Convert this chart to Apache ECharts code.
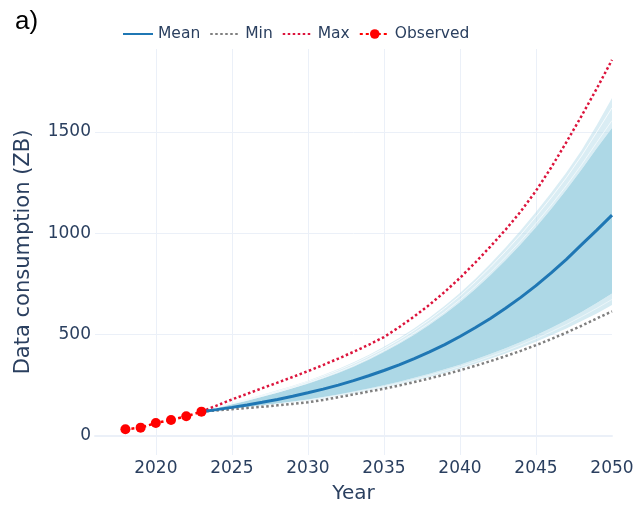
<!DOCTYPE html>
<html>
<head>
<meta charset="utf-8">
<script src="https://cdn.jsdelivr.net/npm/echarts@6/dist/echarts.min.js"></script>
<style>
  html, body { margin: 0; padding: 0; background: #fff; }
  #chart { width: 635px; height: 511px; }
</style>
</head>
<body>
<div id="chart"></div>
<script>
// Observed global data volume (ZB)
const observedYears = [2018, 2019, 2020, 2021, 2022, 2023];
const observedValues = [33, 41, 64, 79, 97, 120];

// Projection years
const projYears = [2023, 2024, 2025, 2026, 2027, 2028, 2029, 2030, 2031, 2032, 2033, 2034, 2035, 2036,
                   2037, 2038, 2039, 2040, 2041, 2042, 2043, 2044, 2045, 2046, 2047, 2048, 2049, 2050];

// Ensemble statistics
const meanValues = [120, 130, 141, 153, 166, 180, 196, 213, 231, 251, 273, 297, 323, 351,
                    382, 415, 451, 491, 534, 580, 630, 684, 742, 805, 872, 944, 1016, 1090];
const minValues  = [120, 126, 132, 138, 144, 151, 158, 166, 178, 191, 205, 219, 233, 249,
                    266, 284, 303, 324, 346, 369, 394, 420, 448, 478, 510, 544, 580, 615];
const maxValues  = [120, 150, 180, 208, 236, 263, 291, 320, 350, 382, 415, 450, 488, 537,
                    590, 648, 711, 780, 855, 935, 1018, 1108, 1210, 1325, 1450, 1580, 1715, 1856];

// Spread of the simulated trajectories (outer faint edges and dense core)
const bandOuterLower = [120, 126, 133, 140, 148, 156, 165, 174, 185, 197, 210, 224, 239, 255,
                        272, 291, 311, 333, 356, 381, 407, 435, 465, 497, 531, 567, 605, 646];
const bandInnerLower = [120, 127, 134, 142, 151, 160, 170, 180, 192, 205, 219, 234, 250, 268,
                        287, 307, 329, 352, 377, 404, 433, 464, 497, 533, 571, 612, 656, 703];
const bandInnerUpper = [120, 138, 156, 174, 193, 213, 235, 258, 283, 311, 341, 376, 414, 455,
                        500, 549, 602, 660, 724, 793, 867, 946, 1030, 1120, 1215, 1315, 1420, 1520];
const bandOuterUpper = [120, 143, 164, 183, 203, 225, 248, 273, 301, 331, 364, 400, 440, 484,
                        532, 585, 643, 706, 775, 850, 930, 1015, 1105, 1200, 1300, 1410, 1535, 1668];

// A few individual light trajectories along the upper edge of the ensemble
const edgeTrajA = [120, 142, 162, 180, 200, 221, 244, 269, 296, 325, 357, 393, 432, 475,
                   522, 574, 631, 692, 760, 833, 911, 994, 1083, 1176, 1275, 1383, 1500, 1620];
const edgeTrajB = [120, 139, 158, 176, 196, 216, 238, 262, 288, 316, 347, 382, 421, 462,
                   508, 558, 612, 672, 737, 807, 883, 963, 1049, 1140, 1236, 1339, 1449, 1557];
const edgeTrajC = [120, 126, 133, 141, 149, 158, 167, 177, 188, 201, 214, 229, 244, 261,
                   279, 299, 320, 342, 366, 392, 419, 449, 480, 514, 550, 589, 630, 674];

// Tick labels
const xTickLabels = [2020, 2025, 2030, 2035, 2040, 2045, 2050];
const yTickLabels = [0, 500, 1000, 1500];

const FONT = 'DejaVu Sans';
const INK = '#2a3f5f';
const GRID = '#ebf0f8';

const pairs = (xs, ys) => xs.map((x, i) => [x, ys[i]]);

// Filled polygon between two trajectories, placed through the chart's axes
function bandPolygon(api, lower, upper, fill) {
  const pts = [];
  for (let i = 0; i < projYears.length; i++) pts.push(api.coord([projYears[i], upper[i]]));
  for (let i = projYears.length - 1; i >= 0; i--) pts.push(api.coord([projYears[i], lower[i]]));
  return { type: 'polygon', shape: { points: pts }, style: { fill: fill, stroke: null } };
}

// Thin light trajectory line
function trajLine(api, values, color) {
  const pts = projYears.map((y, i) => api.coord([y, values[i]]));
  return { type: 'polyline', shape: { points: pts }, style: { stroke: color, lineWidth: 1, fill: null } };
}

const chart = echarts.init(document.getElementById('chart'), null, { renderer: 'canvas' });

const lineItem = name => ({ name: name, itemStyle: { opacity: 0 } });

chart.setOption({
  animation: false,
  backgroundColor: '#fff',
  title: {
    text: 'a)',
    left: 10,
    top: 4,
    textStyle: { fontFamily: 'Liberation Sans', fontSize: 26, fontWeight: 'normal', color: '#000' }
  },
  legend: {
    data: [lineItem('Mean'), lineItem('Min'), lineItem('Max'), { name: 'Observed' }],
    left: 117,
    top: 21,
    itemWidth: 30,
    itemHeight: 12,
    itemGap: 9,
    textStyle: { fontFamily: FONT, fontSize: 15.5, color: INK }
  },
  grid: { left: 95, right: 23, top: 49, bottom: 56, containLabel: false, outerBoundsMode: 'none' },
  xAxis: {
    type: 'value',
    min: 2016,
    max: 2050,
    splitNumber: 6,
    name: 'Year',
    nameLocation: 'middle',
    nameGap: 29,
    nameTextStyle: { fontFamily: FONT, fontSize: 20, color: INK },
    axisLine: { show: true, onZero: true, lineStyle: { color: GRID, width: 2 } },
    axisTick: { show: false },
    axisLabel: {
      fontFamily: FONT, fontSize: 17, color: INK, margin: 5,
      formatter: v => (xTickLabels.includes(Math.round(v)) && Math.abs(v - Math.round(v)) < 1e-6) ? String(Math.round(v)) : ''
    },
    splitLine: { show: true, showMinLine: false, showMaxLine: false, lineStyle: { color: GRID, width: 1 } }
  },
  yAxis: {
    type: 'value',
    min: -94,
    max: 1910,
    splitNumber: 4,
    name: 'Data consumption (ZB)',
    nameLocation: 'middle',
    nameGap: 61,
    nameTextStyle: { fontFamily: FONT, fontSize: 21, color: INK },
    axisLine: { show: false },
    axisTick: { show: false },
    axisLabel: {
      fontFamily: FONT, fontSize: 17, color: INK, margin: 4,
      formatter: v => yTickLabels.includes(v) ? String(v) : ''
    },
    splitLine: { show: true, showMinLine: false, showMaxLine: false, lineStyle: { color: GRID, width: 1 } }
  },
  series: [
    {
      name: 'Trajectories',
      type: 'custom',
      silent: true,
      clip: true,
      z: 1,
      data: [[projYears[0], observedValues[observedValues.length - 1]]],
      encode: { x: 0, y: 1 },
      renderItem: (params, api) => ({
        type: 'group',
        children: [
          bandPolygon(api, bandOuterLower, bandInnerLower, 'rgba(173,216,230,0.5)'),
          bandPolygon(api, bandInnerLower, bandInnerUpper, 'rgb(173,216,230)'),
          bandPolygon(api, bandInnerUpper, bandOuterUpper, 'rgba(173,216,230,0.45)'),
          trajLine(api, edgeTrajA, 'rgba(255,255,255,0.75)'),
          trajLine(api, edgeTrajB, 'rgba(255,255,255,0.6)'),
          trajLine(api, edgeTrajC, 'rgba(255,255,255,0.5)')
        ]
      })
    },
    {
      name: 'Min',
      type: 'line',
      data: pairs(projYears, minValues),
      symbol: 'none',
      color: '#7f7f7f',
      lineStyle: { color: '#7f7f7f', width: 2.5, type: [2.5, 2.5] },
      z: 3
    },
    {
      name: 'Max',
      type: 'line',
      data: pairs(projYears, maxValues),
      symbol: 'none',
      color: '#dc143c',
      lineStyle: { color: '#dc143c', width: 2.5, type: [2.5, 2.5] },
      z: 3
    },
    {
      name: 'Mean',
      type: 'line',
      data: pairs(projYears, meanValues),
      symbol: 'none',
      color: '#1f77b4',
      lineStyle: { color: '#1f77b4', width: 3 },
      z: 4
    },
    {
      name: 'Observed',
      type: 'line',
      data: pairs(observedYears, observedValues),
      symbol: 'circle',
      symbolSize: 10,
      showAllSymbol: true,
      color: '#ff0000',
      itemStyle: { color: '#ff0000' },
      lineStyle: { color: '#ff0000', width: 2.5, type: [3, 3] },
      z: 5
    }
  ]
});
</script>
</body>
</html>
